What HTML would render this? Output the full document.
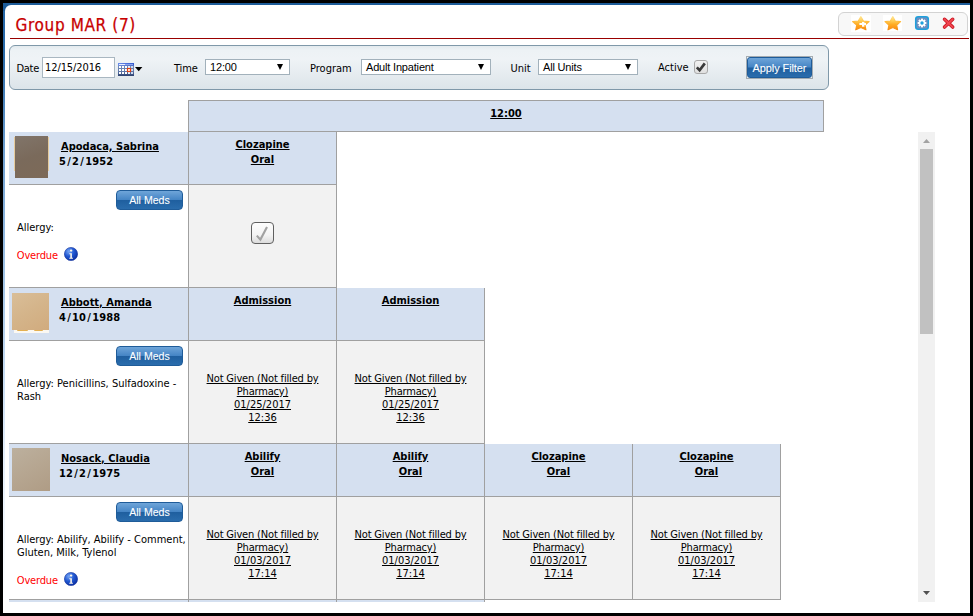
<!DOCTYPE html>
<html lang="en">
<head>
<meta charset="utf-8">
<title>Group MAR (7)</title>
<style>
*{box-sizing:border-box;margin:0;padding:0}
html,body{width:973px;height:616px;overflow:hidden;background:#000}
body{position:relative;font-family:"DejaVu Sans Condensed","DejaVu Sans","Liberation Sans",sans-serif;font-size:11px;color:#000}
body>div,body>svg{position:absolute}
/* all coordinates below are in screenshot pixel space */
#white{left:3px;top:3px;width:967px;height:610px;background:#fff}
#topstrip{left:3px;top:3px;width:967px;height:2px;background:#1d5c99}
#leftstrip{left:3px;top:3px;width:2px;height:610px;background:linear-gradient(to bottom,#2566a6 0px,#2e6eab 60px,#70a0d0 150px,#a8c8e8 290px,#e4eefa 450px,#ffffff 600px)}
#corner{left:3px;top:3px;width:8px;height:8px;background:#1d5c99}
#cornerw{left:5px;top:5px;width:10px;height:10px;background:#fff;border-top-left-radius:6px}
#title{left:15.6px;top:15px;-webkit-text-stroke:.25px #c80000;font-size:17px;line-height:20px;letter-spacing:.62px;color:#c80000;white-space:nowrap}
#redline{left:10px;top:38px;width:959px;height:1px;background:#990000}
#tools{left:838px;top:12px;width:130px;height:24px;border:1px solid #d3d3d3;border-radius:6px;background:#f8f8f8}
#filter{left:9px;top:45px;width:820px;height:45px;border:1px solid #7f98a9;border-radius:6px;background:linear-gradient(to bottom,#e3eaee 0%,#edf2f5 10%,#eff3f6 30%,#e6ecf0 65%,#dce4e9 100%)}
.lbl{font-size:11px;line-height:13px;white-space:nowrap;color:#000}
.inp{border:1px solid #a9b7c1;background:#fff;font-size:11px;line-height:20px;padding-left:2px;white-space:nowrap;letter-spacing:-.1px}
.sel{font-family:"Liberation Sans",Arial,sans-serif;border:1px solid #a2b1bb;background:#fff;font-size:11px;line-height:14px;height:16px;padding-left:4px;white-space:nowrap;letter-spacing:-.18px}
.sel i{position:absolute;right:6px;top:4px;width:0;height:0;border-left:3.5px solid transparent;border-right:3.5px solid transparent;border-top:6px solid #000}

.hd{background:#d5e0f0}
.ln{background:#a0a0a0}
.gc{background:#f2f2f2}
.b{font-family:"DejaVu Sans Condensed","DejaVu Sans","Liberation Sans",sans-serif;font-weight:bold;font-size:11px;line-height:15px;white-space:nowrap}
.b u,.mh u{text-decoration:underline}
.mh{text-align:center;width:147px}
.mt{font-size:11px;line-height:13px;text-align:center;width:147px;text-decoration:underline;white-space:nowrap}
.al{font-size:11px;line-height:13px;width:176px;white-space:nowrap}
.od{font-size:11px;line-height:13px;color:#ff0000;margin-left:-.2px;letter-spacing:-.17px}
.am{font-family:"Liberation Sans",Arial,sans-serif;width:67px;height:20px;border:1px solid #1f5c99;border-radius:4px;background:linear-gradient(to bottom,#6fa5d9 0%,#4585c5 48%,#1f5f9f 52%,#2a6cac 100%);color:#fff;font-size:10.6px;line-height:18px;text-align:center;text-shadow:0 0 1px rgba(255,255,255,.25)}
.sl{margin:0 1.2px}
</style>
</head>
<body>
<div id="white"></div>
<div id="topstrip"></div>
<div id="leftstrip"></div>
<div id="corner"></div>
<div id="cornerw"></div>
<div id="title">Group MAR (7)</div>
<div id="redline"></div>
<div id="tools"></div>
<div style="left:851px;top:15px;width:20px;height:17px;background:#fff"></div>
<div style="left:883px;top:15px;width:19px;height:16px;background:#fff"></div>
<svg style="left:851px;top:15px" width="20" height="17" viewBox="0 0 20 17">
  <defs><linearGradient id="sg" x1="0" y1="0" x2="0" y2="1"><stop offset="0" stop-color="#fff0a8"/><stop offset=".3" stop-color="#ffcf58"/><stop offset=".6" stop-color="#ffab22"/><stop offset="1" stop-color="#ff8a08"/></linearGradient><linearGradient id="sg2" x1="0" y1="0" x2="0" y2="1"><stop offset="0" stop-color="#ffe694"/><stop offset=".4" stop-color="#ffb838"/><stop offset="1" stop-color="#f58a10"/></linearGradient></defs>
  <path id="starp" d="M9.85 1.60L12.41 5.95L18.12 6.64L13.99 10.03L14.96 14.81L9.85 12.55L4.74 14.81L5.71 10.03L1.58 6.64L7.29 5.95Z" fill="url(#sg)" stroke="url(#sg2)" stroke-width="1.1" stroke-linejoin="round"/>
  <rect x="8.4" y="8" width="6.6" height="2" fill="#fff"/><rect x="11" y="6.9" width="2.4" height="4.8" fill="#fff"/>
</svg>
<svg style="left:882.6px;top:15px" width="20" height="17" viewBox="0 0 20 17">
  <path d="M9.80 1.60L12.21 5.95L17.60 6.64L13.70 10.03L14.62 14.81L9.80 12.55L4.98 14.81L5.90 10.03L2.00 6.64L7.39 5.95Z" fill="url(#sg)" stroke="url(#sg2)" stroke-width="1.1" stroke-linejoin="round"/>
</svg>
<svg style="left:914px;top:15px" width="16" height="16" viewBox="0 0 16 16">
  <rect x="1.7" y="1.7" width="12.6" height="12.6" rx="2.5" fill="#6f8fc0" stroke="#1ea0dc" stroke-width="1.5"/>
  <g transform="translate(8 8)" fill="#fff">
    <circle r="3.0"/>
    <g id="teeth"><rect x="-1" y="-4.35" width="2" height="8.7"/><rect x="-4.35" y="-1" width="8.7" height="2"/></g>
    <g transform="rotate(45)"><rect x="-1" y="-4.35" width="2" height="8.7"/><rect x="-4.35" y="-1" width="8.7" height="2"/></g>
    <circle r="1.7" fill="#1ea0dc"/>
  </g>
</svg>
<svg style="left:941px;top:16px" width="16" height="15" viewBox="0 0 16 15">
  <path d="M3.5 3.3L11.7 11.1M11.7 3.3L3.5 11.1" stroke="#c8141f" stroke-width="3.5" stroke-linecap="round" fill="none"/>
  <path d="M3.5 3.3L11.7 11.1M11.7 3.3L3.5 11.1" stroke="#f04550" stroke-width="2.0" stroke-linecap="round" fill="none"/>
</svg>
<div id="filter"></div>
<div class="lbl" style="left:16.5px;top:62px;letter-spacing:-.3px">Date</div>
<div class="inp" style="left:42px;top:57px;width:73px;height:21px">12/15/2016</div>
<svg id="cal" style="left:118px;top:63px" width="16" height="13" viewBox="0 0 16 13">
  <defs><linearGradient id="cg" x1="0" y1="0" x2="0" y2="1"><stop offset="0" stop-color="#7f98c6"/><stop offset=".7" stop-color="#5a73a6"/><stop offset="1" stop-color="#2c3f6c"/></linearGradient>
  <linearGradient id="ch" x1="0" y1="0" x2="1" y2="0"><stop offset="0" stop-color="#6a8cec"/><stop offset="1" stop-color="#3358cf"/></linearGradient></defs>
  <rect x="0" y="0" width="16" height="13" fill="url(#cg)"/>
  <rect x="0" y="0" width="16" height="2.6" fill="url(#ch)"/>
  <rect x="1" y="1" width="6" height="1" fill="#e8eeff"/><rect x="7" y="1" width="8" height="1" fill="#8aa4f0"/>
  <rect x="1" y="3" width="2" height="2" fill="#fff"/><rect x="4" y="3" width="2" height="2" fill="#fff"/><rect x="7" y="3" width="2" height="2" fill="#fff"/><rect x="10" y="3" width="2" height="2" fill="#eaf1fb"/><rect x="13" y="3" width="2" height="2" fill="#cfdcf2"/><rect x="1" y="6" width="2" height="2" fill="#fff"/><rect x="4" y="6" width="2" height="2" fill="#fff"/><rect x="7" y="6" width="2" height="2" fill="#fff"/><rect x="10" y="6" width="2" height="2" fill="#eaf1fb"/><rect x="13" y="6" width="2" height="2" fill="#cfdcf2"/><rect x="1" y="9" width="2" height="2" fill="#fff"/><rect x="4" y="9" width="2" height="2" fill="#fff"/><rect x="7" y="9" width="2" height="2" fill="#fff"/><rect x="10" y="9" width="2" height="2" fill="#eaf1fb"/><rect x="13" y="9" width="2" height="2" fill="#cfdcf2"/>
  <rect x="9.5" y="5.5" width="3" height="3" fill="#fff" stroke="#e2400e" stroke-width="1.2"/>
</svg>
<svg style="left:135px;top:67px" width="8" height="5" viewBox="0 0 8 5"><path d="M0 0h7.4L3.7 4.2z" fill="#000"/></svg>
<div class="lbl" style="left:174px;top:62px;letter-spacing:-.15px">Time</div>
<div class="sel" style="left:205px;top:59px;width:85px">12:00<i></i></div>
<div class="lbl" style="left:310px;top:62px">Program</div>
<div class="sel" style="left:361px;top:59px;width:130px">Adult Inpatient<i></i></div>
<div class="lbl" style="left:510.6px;top:62px">Unit</div>
<div class="sel" style="left:538px;top:59px;width:100px">All Units<i></i></div>
<div class="lbl" style="left:658px;top:61px">Active</div>
<div id="chk" style="left:694px;top:60px;width:14px;height:14px;border:1.2px solid #a9a9a9;border-radius:3px;background:linear-gradient(#f2f2f2,#e0e0e0)"><svg width="14" height="14" viewBox="0 0 14 14" style="position:absolute;left:-1.2px;top:-1.2px"><path d="M2.8 7.4L5.6 10.2L10.8 3.4" fill="none" stroke="#3a3a3a" stroke-width="2.7"/></svg></div>
<div id="apply" class="am" style="left:747px;top:57px;width:65px;height:21px;font-size:11px;line-height:20px;letter-spacing:-.1px;border-radius:3px;white-space:nowrap">Apply Filter</div>
<div style="left:746px;top:56px;width:67px;height:23px;border:1px solid #a3abb1"></div>

<div class="hd" style="left:188px;top:100px;width:636px;height:32px;border:1px solid #a0a0a0"></div>
<div class="b" style="left:188px;top:106px;width:636px;text-align:center"><u>12:00</u></div>
<div class="hd" style="left:9px;top:132px;width:179px;height:52px"></div>
<div class="ph" style="left:14px;top:137px;width:35px;height:34px;background:#e6cb9c"></div><div class="ph" style="left:15px;top:136px;width:33px;height:42px;background:linear-gradient(160deg,#81756a 0%,#7a6a5b 50%,#7d6a58 100%)"></div>
<div class="b" style="left:61px;top:139px"><u>Apodaca, Sabrina</u></div>
<div class="b" style="left:59px;top:154px;letter-spacing:.1px">5<span class="sl">/</span>2<span class="sl">/</span>1952</div>
<div class="hd" style="left:189px;top:132px;width:147px;height:52px"></div>
<div class="b mh" style="left:189px;top:137px"><u>Clozapine</u><br><u>Oral</u></div>
<div class="gc" style="left:189px;top:185px;width:147px;height:102px"></div>
<div style="left:251px;top:222px;width:23px;height:22px;border:1.7px solid #606060;border-radius:4px;background:linear-gradient(to bottom,#fdfdfd,#f4f4f4 60%,#dcdcdc)"><svg width="20" height="19" viewBox="0 0 20 19" style="position:absolute;left:0;top:0"><path d="M4.8 12.6L8.4 16.6L15 3.9" fill="none" stroke="#a2a2a2" stroke-width="2.1"/></svg></div>
<div class="ln" style="left:336px;top:132px;width:1px;height:156px"></div>
<div class="ln" style="left:9px;top:184px;width:328px;height:1px"></div>
<div class="ln" style="left:9px;top:287px;width:328px;height:1px"></div>
<div class="am" style="left:116px;top:190px;width:67px;height:20px">All Meds</div>
<div class="al" style="left:17px;top:221px">Allergy:</div>
<div class="od" style="left:17px;top:249px">Overdue</div>
<svg style="left:64px;top:247px" width="14" height="14" viewBox="0 0 14 14"><defs><radialGradient id="ig0" cx="35%" cy="30%" r="75%"><stop offset="0" stop-color="#7aa8f4"/><stop offset=".5" stop-color="#2158d2"/><stop offset="1" stop-color="#0c2fa0"/></radialGradient></defs><circle cx="7" cy="7" r="6.6" fill="url(#ig0)" stroke="#1636a0" stroke-width=".6"/><ellipse cx="7.1" cy="3.6" rx="1.25" ry="1.1" fill="#fbf6ea"/><path d="M5.3 6.3h2.6v4.4h1v1H5.3v-1h1V7.3h-1z" fill="#fbf6ea"/></svg>
<div class="hd" style="left:9px;top:288px;width:179px;height:52px"></div>
<div class="ph" style="left:14px;top:330px;width:35px;height:3px;background:#fbf8f2"></div><div class="ph" style="left:17px;top:330px;width:11px;height:1.4px;border-radius:0 0 5px 5px;background:#e4b050"></div><div class="ph" style="left:34px;top:330px;width:9px;height:1.4px;border-radius:0 0 5px 5px;background:#e4b050"></div><div class="ph" style="left:12px;top:293px;width:37px;height:37px;background:linear-gradient(150deg,#d9be98 0%,#d4b48a 50%,#d1ab7e 100%)"></div>
<div class="b" style="left:61px;top:295px"><u>Abbott, Amanda</u></div>
<div class="b" style="left:59px;top:310px;letter-spacing:.1px">4<span class="sl">/</span>10<span class="sl">/</span>1988</div>
<div class="hd" style="left:189px;top:288px;width:147px;height:52px"></div>
<div class="b mh" style="left:189px;top:293px"><u>Admission</u></div>
<div class="gc" style="left:189px;top:341px;width:147px;height:102px"></div>
<div class="mt" style="left:189px;top:372px"><span style="letter-spacing:-.17px">Not Given (Not filled by<br>Pharmacy)</span><br>01/25/2017<br>12:36</div>
<div class="ln" style="left:336px;top:288px;width:1px;height:156px"></div>
<div class="hd" style="left:337px;top:288px;width:147px;height:52px"></div>
<div class="b mh" style="left:337px;top:293px"><u>Admission</u></div>
<div class="gc" style="left:337px;top:341px;width:147px;height:102px"></div>
<div class="mt" style="left:337px;top:372px"><span style="letter-spacing:-.17px">Not Given (Not filled by<br>Pharmacy)</span><br>01/25/2017<br>12:36</div>
<div class="ln" style="left:484px;top:288px;width:1px;height:156px"></div>
<div class="ln" style="left:9px;top:340px;width:476px;height:1px"></div>
<div class="ln" style="left:9px;top:443px;width:476px;height:1px"></div>
<div class="am" style="left:116px;top:346px;width:67px;height:20px">All Meds</div>
<div class="al" style="left:17px;top:377px">Allergy: Penicillins, Sulfadoxine -<br>Rash</div>
<div class="hd" style="left:9px;top:444px;width:179px;height:52px"></div>
<div class="ph" style="left:12px;top:448px;width:38px;height:43px;background:linear-gradient(150deg,#bcb09e 0%,#b6a691 50%,#af9c85 100%)"></div>
<div class="b" style="left:61px;top:451px"><u>Nosack, Claudia</u></div>
<div class="b" style="left:59px;top:466px;letter-spacing:.1px">12<span class="sl">/</span>2<span class="sl">/</span>1975</div>
<div class="hd" style="left:189px;top:444px;width:147px;height:52px"></div>
<div class="b mh" style="left:189px;top:449px"><u>Abilify</u><br><u>Oral</u></div>
<div class="gc" style="left:189px;top:497px;width:147px;height:102px"></div>
<div class="mt" style="left:189px;top:528px"><span style="letter-spacing:-.17px">Not Given (Not filled by<br>Pharmacy)</span><br>01/03/2017<br>17:14</div>
<div class="ln" style="left:336px;top:444px;width:1px;height:156px"></div>
<div class="hd" style="left:337px;top:444px;width:147px;height:52px"></div>
<div class="b mh" style="left:337px;top:449px"><u>Abilify</u><br><u>Oral</u></div>
<div class="gc" style="left:337px;top:497px;width:147px;height:102px"></div>
<div class="mt" style="left:337px;top:528px"><span style="letter-spacing:-.17px">Not Given (Not filled by<br>Pharmacy)</span><br>01/03/2017<br>17:14</div>
<div class="ln" style="left:484px;top:444px;width:1px;height:156px"></div>
<div class="hd" style="left:485px;top:444px;width:147px;height:52px"></div>
<div class="b mh" style="left:485px;top:449px"><u>Clozapine</u><br><u>Oral</u></div>
<div class="gc" style="left:485px;top:497px;width:147px;height:102px"></div>
<div class="mt" style="left:485px;top:528px"><span style="letter-spacing:-.17px">Not Given (Not filled by<br>Pharmacy)</span><br>01/03/2017<br>17:14</div>
<div class="ln" style="left:632px;top:444px;width:1px;height:156px"></div>
<div class="hd" style="left:633px;top:444px;width:147px;height:52px"></div>
<div class="b mh" style="left:633px;top:449px"><u>Clozapine</u><br><u>Oral</u></div>
<div class="gc" style="left:633px;top:497px;width:147px;height:102px"></div>
<div class="mt" style="left:633px;top:528px"><span style="letter-spacing:-.17px">Not Given (Not filled by<br>Pharmacy)</span><br>01/03/2017<br>17:14</div>
<div class="ln" style="left:780px;top:444px;width:1px;height:156px"></div>
<div class="ln" style="left:9px;top:496px;width:772px;height:1px"></div>
<div class="ln" style="left:9px;top:599px;width:772px;height:1px"></div>
<div class="am" style="left:116px;top:502px;width:67px;height:20px">All Meds</div>
<div class="al" style="left:17px;top:533px">Allergy: Abilify, Abilify - Comment,<br>Gluten, Milk, Tylenol</div>
<div class="od" style="left:17px;top:574px">Overdue</div>
<svg style="left:64px;top:572px" width="14" height="14" viewBox="0 0 14 14"><defs><radialGradient id="ig2" cx="35%" cy="30%" r="75%"><stop offset="0" stop-color="#7aa8f4"/><stop offset=".5" stop-color="#2158d2"/><stop offset="1" stop-color="#0c2fa0"/></radialGradient></defs><circle cx="7" cy="7" r="6.6" fill="url(#ig2)" stroke="#1636a0" stroke-width=".6"/><ellipse cx="7.1" cy="3.6" rx="1.25" ry="1.1" fill="#fbf6ea"/><path d="M5.3 6.3h2.6v4.4h1v1H5.3v-1h1V7.3h-1z" fill="#fbf6ea"/></svg>
<div class="hd" style="left:9px;top:600px;width:179px;height:2px"></div>
<div class="hd" style="left:189px;top:600px;width:147px;height:2px"></div>
<div class="hd" style="left:337px;top:600px;width:147px;height:2px"></div>
<div class="ln" style="left:188px;top:100px;width:1px;height:502px"></div>
<div class="ln" style="left:336px;top:600px;width:1px;height:2px"></div>
<div class="ln" style="left:484px;top:600px;width:1px;height:2px"></div>

<div style="left:918px;top:132px;width:17px;height:470px;background:#f1f1f1"></div>
<div style="left:920px;top:149px;width:13px;height:185px;background:#c1c1c1"></div>
<svg style="left:918px;top:132px" width="17" height="17" viewBox="0 0 17 17"><path d="M5 11L8.5 7L12 11z" fill="#a3a3a3"/></svg>
<svg style="left:918px;top:585px" width="17" height="17" viewBox="0 0 17 17"><path d="M5 6L8.5 10L12 6z" fill="#505050"/></svg>

</body>
</html>
